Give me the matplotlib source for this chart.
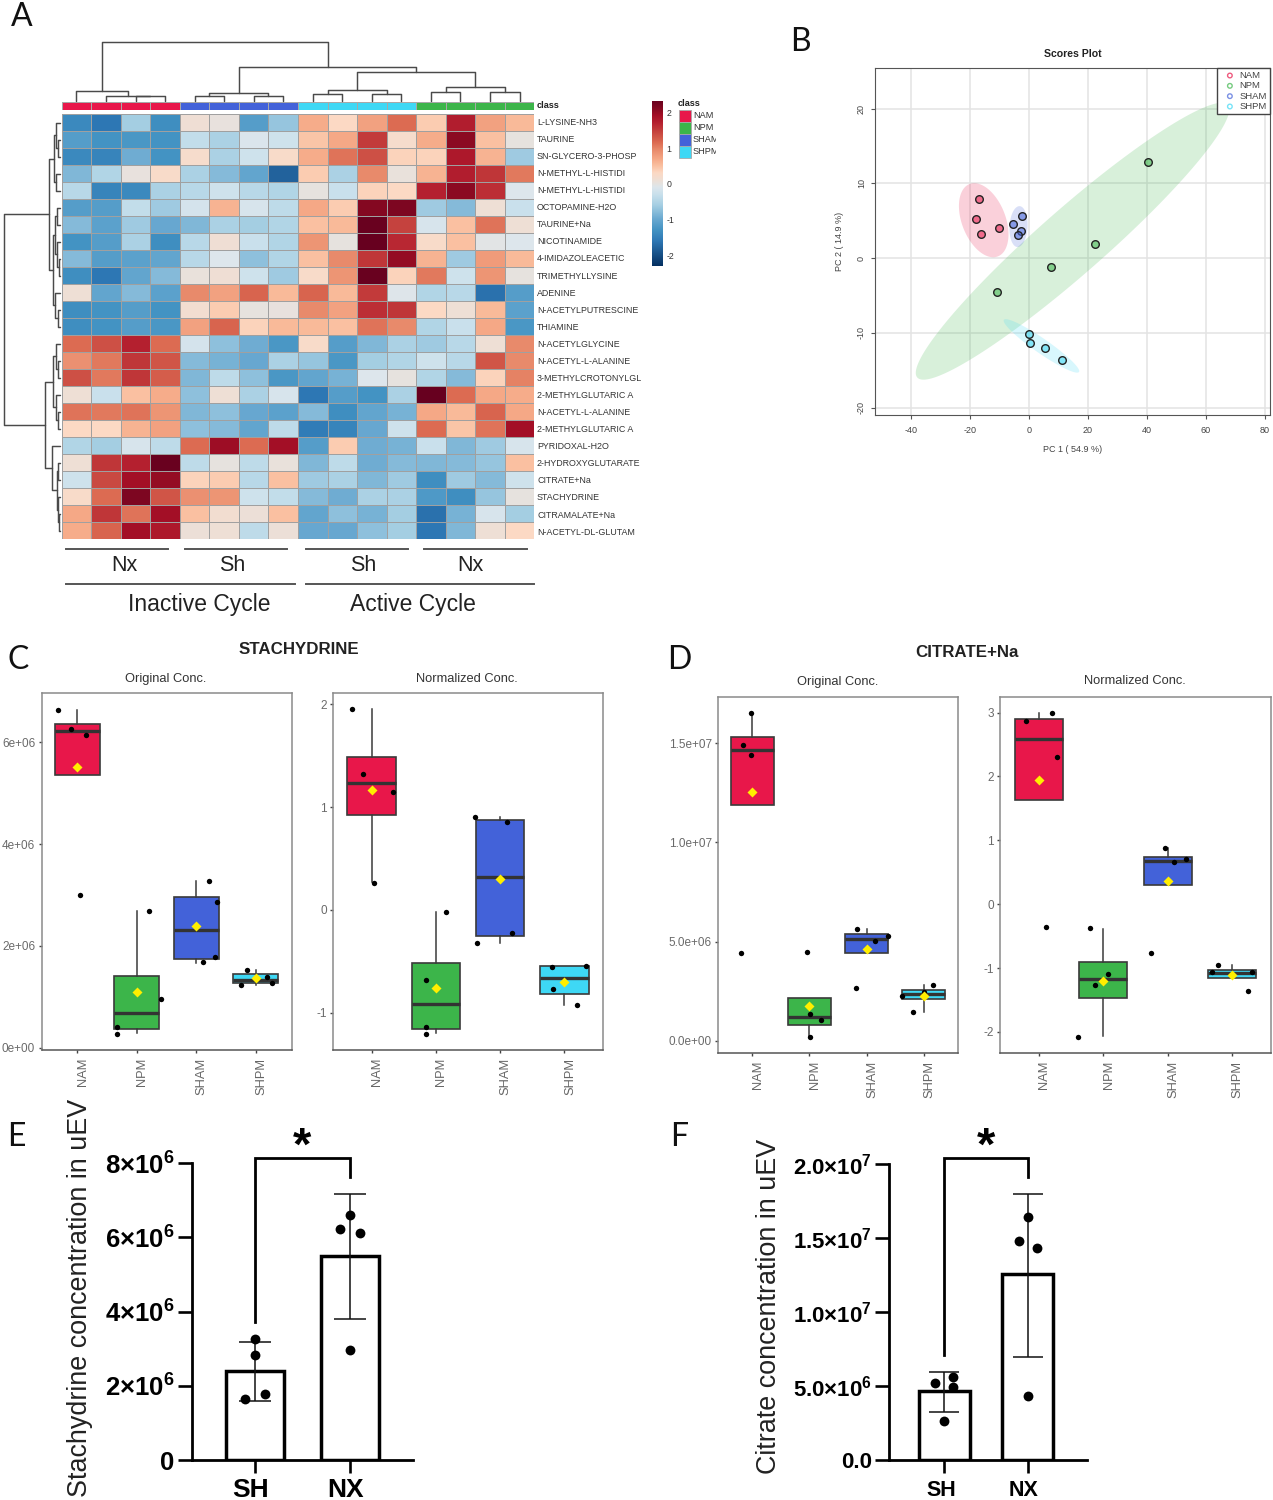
import matplotlib
matplotlib.use("Agg")
import matplotlib.pyplot as plt
import numpy as np
from matplotlib.colors import LinearSegmentedColormap, ListedColormap
from matplotlib.transforms import ScaledTranslation

plt.rcParams["font.family"] = "Liberation Sans"
plt.rcParams["mathtext.fontset"] = "custom"
plt.rcParams["mathtext.bf"] = "Liberation Sans:bold"
plt.rcParams["mathtext.rm"] = "Liberation Sans:bold"
plt.rcParams["axes.unicode_minus"] = False

W, H = 1273, 1500
LETTER_FONT = "Lato"

groups = ["NAM", "NPM", "SHAM", "SHPM"]
group_colors = ["#e8174a", "#3cb54a", "#4362d9", "#3ed8f5"]

# heatmap, columns ordered NAM x4, SHAM x4, SHPM x4, NPM x4
metabolites = [
    "L-LYSINE-NH3", "TAURINE", "SN-GLYCERO-3-PHOSP", "N-METHYL-L-HISTIDI", "N-METHYL-L-HISTIDI",
    "OCTOPAMINE-H2O", "TAURINE+Na", "NICOTINAMIDE", "4-IMIDAZOLEACETIC", "TRIMETHYLLYSINE",
    "ADENINE", "N-ACETYLPUTRESCINE", "THIAMINE", "N-ACETYLGLYCINE", "N-ACETYL-L-ALANINE",
    "3-METHYLCROTONYLGL", "2-METHYLGLUTARIC A", "N-ACETYL-L-ALANINE", "2-METHYLGLUTARIC A",
    "PYRIDOXAL-H2O", "2-HYDROXYGLUTARATE", "CITRATE+Na", "STACHYDRINE", "CITRAMALATE+Na",
    "N-ACETYL-DL-GLUTAM",
]
heat_values = np.array([
    [-1.4, -1.6, -0.6, -1.35, 0.12, 0.02, -1.15, -0.7, 0.65, 0.3, 0.75, 1.15, 0.4, 1.75, 0.75, 0.55],
    [-1.15, -1.3, -1.25, -1.3, -0.35, -0.55, -0.12, -0.25, 0.45, 0.7, 1.5, 0.2, 0.65, 2.05, 0.5, 0.0],
    [-1.4, -1.45, -0.95, -1.3, 0.2, -0.55, -0.25, 0.25, 0.65, 1.1, 1.35, 0.35, 0.35, 1.8, 0.6, -0.65],
    [-0.85, -0.5, 0.02, 0.25, -0.55, -0.8, -1.05, -1.8, 0.4, -0.55, 0.95, 0.05, 0.6, 1.75, 1.55, 1.05],
    [-0.45, -1.45, -1.4, -0.55, -0.45, -0.25, -0.45, -0.5, 0.0, -0.3, 0.35, 0.3, 1.7, 2.05, 1.6, -0.1],
    [-1.15, -1.15, -0.35, -0.65, -0.2, 0.6, -0.15, -0.4, 0.7, 0.4, 2.1, 2.15, -0.65, -0.8, 0.1, -0.3],
    [-0.8, -1.1, -0.65, -1.0, -0.85, -0.55, -0.6, -0.5, 0.5, 0.55, 2.3, 1.45, -0.15, 0.5, 1.1, 0.1],
    [-1.3, -1.15, -0.55, -1.35, -0.45, 0.12, -0.3, -0.5, 0.85, 0.0, 2.33, 1.65, 0.25, 0.5, -0.05, -0.1],
    [-0.8, -1.15, -1.1, -1.05, -0.45, -0.1, -0.75, -0.5, 0.5, 0.95, 1.55, 2.0, 0.6, -0.65, 0.8, 0.55],
    [-1.35, -1.6, -1.05, -0.8, 0.05, 0.12, -0.25, -0.65, 0.25, 0.85, 2.3, 0.35, 1.05, -0.25, 0.85, 0.0],
    [0.1, -1.05, -0.8, -1.1, 0.95, 0.75, 1.2, 0.55, 1.2, 0.55, 1.5, -0.08, -0.5, -0.45, -1.65, -1.15],
    [-1.35, -1.3, -1.15, -1.3, 0.15, 0.4, 0.0, 0.03, 0.95, 0.75, 1.6, 1.55, 0.3, 0.1, 0.55, -1.1],
    [-1.35, -1.3, -1.15, -1.25, 0.75, 1.2, 0.35, 0.55, 0.55, 0.5, 1.1, 0.95, -0.5, -0.3, 0.7, -1.25],
    [1.15, 1.35, 1.7, 1.15, -0.2, -0.75, -0.95, -1.25, 0.25, -1.15, -0.85, -0.55, -0.65, -0.45, 0.1, 0.95],
    [0.9, 1.05, 1.55, 1.3, -0.8, -0.9, -1.0, -0.55, -0.7, -1.25, -0.6, -0.5, -0.25, -0.45, 1.3, 0.95],
    [1.35, 1.05, 1.55, 1.25, -0.85, -0.4, -0.75, -1.25, -1.05, -0.9, -0.1, 0.0, -0.5, -0.8, 0.35, 1.0],
    [0.1, -0.3, 0.5, 0.65, -0.75, 0.1, -0.55, -0.15, -1.6, -1.15, -1.3, -0.55, 2.33, 1.15, 0.7, 0.65],
    [1.1, 1.05, 1.1, 0.85, -0.85, -0.75, -1.0, -1.1, -0.8, -1.35, -1.05, -0.9, 0.7, 0.55, 1.2, 0.7],
    [0.3, 0.3, 0.6, 0.75, -0.75, -0.8, -1.05, -0.4, -1.55, -1.45, -1.0, -0.25, 1.15, 0.45, 1.1, 1.9],
    [-0.5, -0.6, -0.15, -0.4, 1.15, 1.95, 1.15, 1.9, -1.15, 0.4, -0.95, -0.9, -0.3, -0.85, -0.65, -0.15],
    [0.1, 1.55, 1.7, 2.3, -0.4, 0.0, -0.4, 0.05, -0.85, -0.4, -0.95, -0.8, -0.85, -0.8, -0.7, 0.5],
    [-0.25, 1.4, 1.9, 2.0, 0.35, 0.4, -0.45, 0.5, -0.65, -0.55, -0.85, -0.65, -1.35, -0.65, -0.8, -0.25],
    [0.25, 1.15, 2.15, 1.3, 0.9, 0.85, -0.25, -0.35, -0.8, -0.95, -0.55, -0.55, -1.2, -1.35, -0.7, 0.0],
    [0.7, 1.55, 1.1, 1.9, 0.5, 0.15, 0.07, 0.5, -1.05, -0.75, -0.9, -0.6, -1.65, -0.9, -0.15, -0.6],
    [0.65, 1.2, 1.9, 1.8, 0.08, 0.1, -0.4, 0.07, -1.0, -1.0, -0.75, -0.6, -1.6, -0.85, 0.1, 0.3],
])
column_class = [0, 0, 0, 0, 2, 2, 2, 2, 3, 3, 3, 3, 1, 1, 1, 1]

# colour scale as it looks in the reference, grey in the middle
heat_min, heat_max = -2.3, 2.33
heat_stops = [-2.3, -1.6, -1.3, -1.0, -0.6, -0.3, -0.1, 0.0, 0.15, 0.3, 0.5, 0.7, 0.95, 1.15, 1.45, 1.7, 1.9, 2.05, 2.33]
heat_colors = ["#053061", "#2e78b5", "#4393c3", "#68a8d0", "#a6cfe3", "#c9e0ec", "#dde6ec", "#e6e2df", "#f2ddd0",
               "#fcd9c4", "#fac0a0", "#f5a785", "#e88a6b", "#dc6b52", "#c6433e", "#b52130", "#a50f26", "#8c0a22", "#67001f"]
heat_cmap = LinearSegmentedColormap.from_list(
    "heat", [((s - heat_min) / (heat_max - heat_min), c) for s, c in zip(heat_stops, heat_colors)])

# dendrograms: (merge height, left, right), ints are leaves
column_tree = (59,
    (10.3, 0, (5.3, 1, (5, 2, 3))),
    (34.3,
        (7.7, (5, 4, 5), (5, 6, 7)),
        (28.7,
            (11, (6.7, 8, 9), (6.7, 10, 11)),
            (13.7, (8.7, 12, 13), (8.7, 14, 15)))))
row_tree = (56.3,
    (10.7,
        (6, (4, 0, (2, 1, 2)), (4, 3, 4)),
        (7, (5, (3, 5, 6), (3, 7, (1.5, 8, 9))), (5, 10, (2, 11, 12)))),
    (15,
        (6.7, (4, 13, (2, 14, 15)), (4, 16, (2, 17, 18))),
        (8.3, 19, (3, (2, 20, 21), (2, 22, (1.5, 23, 24))))))

# scores plot
pc1_nam = [-16.9, -17.9, -16.3, -10.3]
pc2_nam = [7.86, 5.2, 3.2, 4.06]
pc1_npm = [40.2, 22.3, 7.3, -10.8]
pc2_npm = [12.9, 1.96, -1.25, -4.55]
pc1_sham = [-2.5, -5.3, -2.8, -3.6]
pc2_sham = [5.6, 4.6, 3.66, 3.04]
pc1_shpm = [0.1, 0.2, 5.5, 11.1]
pc2_shpm = [-10.1, -11.3, -12.0, -13.6]

# box panels: q1, median, q3, whisker low, whisker high per group
c1_box = [[5.36, 6.22, 6.36, 5.36, 6.64], [0.36, 0.69, 1.41, 0.28, 2.69],
          [1.75, 2.32, 2.97, 1.67, 3.28], [1.27, 1.33, 1.44, 1.23, 1.53]]
c1_mean = [5.51, 1.09, 2.39, 1.36]
c1_points = [[6.63, 6.26, 6.15, 3.0], [2.69, 0.96, 0.40, 0.27], [3.28, 2.87, 1.79, 1.68], [1.53, 1.39, 1.23, 1.28]]
c1_jitter = [[-0.32, -0.1, 0.147, 0.04], [0.21, 0.4, -0.34, -0.34], [0.21, 0.34, 0.32, 0.11], [-0.14, 0.19, -0.24, 0.27]]

c2_box = [[0.92, 1.235, 1.485, 0.275, 1.95], [-1.16, -0.913, -0.515, -1.2, -0.026],
          [-0.253, 0.318, 0.877, -0.325, 0.9], [-0.816, -0.666, -0.552, -0.923, -0.546]]
c2_mean = [1.165, -0.764, 0.302, -0.702]
c2_points = [[1.95, 1.326, 1.144, 0.26], [-0.026, -0.68, -1.14, -1.21], [0.907, 0.855, -0.227, -0.328], [-0.56, -0.546, -0.773, -0.926]]
c2_jitter = [[-0.31, -0.135, 0.33, 0.037], [0.165, -0.155, -0.155, -0.147], [-0.385, 0.104, 0.177, -0.367], [-0.2, 0.33, -0.177, 0.2]]

d1_box = [[11.91, 14.66, 15.32, 11.91, 16.54], [0.79, 1.21, 2.17, 0.185, 2.17],
          [4.42, 5.14, 5.39, 4.42, 5.63], [2.08, 2.35, 2.55, 1.46, 2.79]]
d1_mean = [12.56, 1.76, 4.64, 2.25]
d1_points = [[16.54, 14.91, 14.43, 4.4], [4.47, 1.36, 1.02, 0.17], [5.64, 5.29, 5.02, 2.65], [2.79, 2.45, 2.28, 1.46]]
d1_jitter = [[-0.014, -0.16, -0.014, -0.19], [-0.05, 0.007, 0.21, 0.014], [-0.16, 0.38, 0.15, -0.18], [0.17, 0.0, -0.38, -0.19]]

d2_box = [[1.627, 2.586, 2.904, 1.627, 3.0], [-1.47, -1.173, -0.912, -2.07, -0.386],
          [0.297, 0.683, 0.746, 0.297, 0.876], [-1.152, -1.074, -1.027, -1.152, -0.954]]
d2_mean = [1.945, -1.204, 0.365, -1.11]
d2_points = [[2.99, 2.87, 2.3, -0.365], [-0.38, -1.09, -1.267, -2.08], [0.88, 0.7, 0.657, -0.77], [-0.954, -1.058, -1.069, -1.356]]
d2_jitter = [[0.21, -0.195, 0.28, 0.12], [-0.21, 0.08, -0.135, -0.39], [-0.036, 0.287, 0.1, -0.26], [-0.22, -0.31, 0.31, 0.238]]

# bar panels
bar_labels = ["SH", "NX"]
e_mean = [2.39e6, 5.51e6]
e_err_low = [1.59e6, 3.8e6]
e_err_high = [3.18e6, 7.17e6]
e_points = [[3.27e6, 2.83e6, 1.65e6, 1.77e6], [6.6e6, 6.23e6, 6.11e6, 2.97e6]]
e_jitter = [[0, 0, -0.105, 0.105], [0, -0.105, 0.105, 0]]
e_ticks = [0, 2e6, 4e6, 6e6, 8e6]
e_tick_labels = ["0", r"$\mathbf{2{\times}10^{6}}$", r"$\mathbf{4{\times}10^{6}}$", r"$\mathbf{6{\times}10^{6}}$", r"$\mathbf{8{\times}10^{6}}$"]
f_mean = [4.64e6, 12.56e6]
f_err_low = [3.27e6, 6.98e6]
f_err_high = [5.92e6, 17.97e6]
f_points = [[5.59e6, 4.95e6, 5.23e6, 2.61e6], [16.4e6, 14.8e6, 14.3e6, 4.35e6]]
f_jitter = [[0.108, 0.108, -0.108, 0], [0, -0.108, 0.108, 0]]
f_ticks = [0, 5e6, 10e6, 15e6, 20e6]
f_tick_labels = ["0.0", r"$\mathbf{5.0{\times}10^{6}}$", r"$\mathbf{1.0{\times}10^{7}}$", r"$\mathbf{1.5{\times}10^{7}}$", r"$\mathbf{2.0{\times}10^{7}}$"]


fig = plt.figure(figsize=(W / 100, H / 100), dpi=100, facecolor="white")


def px_axes(left, top, right, bottom, **kwargs):
    return fig.add_axes([left / W, 1 - bottom / H, (right - left) / W, (bottom - top) / H], **kwargs)


page = px_axes(0, 0, W, H, zorder=10)
page.set_xlim(0, W)
page.set_ylim(H, 0)
page.axis("off")
page.patch.set_alpha(0)


def draw_tree(node, center_of, to_xy):
    """Draw a nested merge tree on the page, return position of the node and its height."""
    if isinstance(node, int):
        return center_of(node), 0
    height, left, right = node
    pos_a, h_a = draw_tree(left, center_of, to_xy)
    pos_b, h_b = draw_tree(right, center_of, to_xy)
    xs, ys = to_xy([pos_a, pos_a, pos_b, pos_b], [h_a, height, height, h_b])
    page.plot(xs, ys, color="#4a4a4a", lw=1.05, solid_capstyle="round")
    return (pos_a + pos_b) / 2, height


# ---- panel A
heat_left, heat_right, heat_top, heat_bottom = 61.7, 534.3, 114, 539.3
ax = px_axes(heat_left, heat_top, heat_right, heat_bottom)
ax.pcolormesh(heat_values, cmap=heat_cmap, vmin=heat_min, vmax=heat_max, edgecolors="#a0a0a0", linewidth=0.55)
ax.set_ylim(len(metabolites), 0)
ax.axis("off")

ax = px_axes(heat_left, 101.7, heat_right, 110)
ax.pcolormesh([column_class], cmap=ListedColormap(group_colors), vmin=0, vmax=3, edgecolors="#a8a8a8", linewidth=0.4)
ax.axis("off")

cell_w = (heat_right - heat_left) / heat_values.shape[1]
cell_h = (heat_bottom - heat_top) / heat_values.shape[0]
draw_tree(column_tree, lambda i: heat_left + (i + 0.5) * cell_w,
          lambda p, h: (p, [101 - v for v in h]))
draw_tree(row_tree, lambda i: heat_top + (i + 0.5) * cell_h,
          lambda p, h: ([60 - v for v in h], p))

page.text(537, 105.8, "class", fontsize=6.6, fontweight="bold", va="center", color="#222222")
for i, name in enumerate(metabolites):
    page.text(537, 122.4 + i * 17.07, name, fontsize=6.4, va="center", color="#333333")

# colour scale beside the heatmap
ax = px_axes(652.3, 100.7, 663.3, 266)
scale = np.linspace(heat_max, heat_min, 256)[:, None]
ax.imshow(scale, cmap=heat_cmap, vmin=heat_min, vmax=heat_max, aspect="auto", extent=[0, 1, heat_min, heat_max])
ax.set_xticks([])
ax.yaxis.tick_right()
ax.set_yticks([-2, -1, 0, 1, 2], ["-2", "-1", "0", "1", "2"], fontsize=6.3, color="#333333")
ax.tick_params(axis="y", length=0, pad=2.5)
for s in ax.spines.values():
    s.set_visible(False)

ax = px_axes(677, 97, 716, 162)
ax.set_xlim(677, 716)
ax.set_ylim(162, 97)
ax.axis("off")
ax.text(678, 103, "class", fontsize=6.6, fontweight="bold", va="center", color="#222222")
for i, (name, color) in enumerate(zip(groups, group_colors)):
    ax.bar(685, 12, width=12, bottom=110 + 12 * i, color=color, edgecolor="#a8a8a8", linewidth=0.6)
    ax.text(693, 116 + 12 * i, name, fontsize=6.6, va="center", color="#333333", clip_on=True)

for x0, x1, label, xc in [(66, 168, "Nx", 124), (184.7, 287, "Sh", 232), (305.7, 407.7, "Sh", 363), (424, 526.7, "Nx", 470)]:
    page.plot([x0, x1], [549, 549], color="#555555", lw=1.4)
    page.text(xc, 565.5, label, fontsize=15.5, ha="center", va="center", color="#222222")
for x0, x1, label, xc in [(66, 295, "Inactive Cycle", 199), (305.7, 534, "Active Cycle", 413)]:
    page.plot([x0, x1], [584, 584], color="#555555", lw=1.4)
    page.text(xc, 604.5, label, fontsize=16.5, ha="center", va="center", color="#222222")

# ---- panel B
ax = px_axes(875, 67.7, 1270, 415)
ax.set_xlim(-52.2, 81.7)
ax.set_ylim(-21.0, 25.5)
ax.grid(True, color="#e3e3e3", lw=1.1)
ax.set_axisbelow(True)
for name, color, pcx, pcy in zip(groups, group_colors, [pc1_nam, pc1_npm, pc1_sham, pc1_shpm],
                                 [pc2_nam, pc2_npm, pc2_sham, pc2_shpm]):
    # 95 % ellipse of the group scores
    centre = np.array([np.mean(pcx), np.mean(pcy)])
    chol = np.linalg.cholesky(np.cov(pcx, pcy))
    t = np.linspace(0, 2 * np.pi, 200)
    outline = centre[:, None] + 2.448 * chol @ np.vstack([np.cos(t), np.sin(t)])
    ax.fill(outline[0], outline[1], color=color, alpha=0.2, lw=0)
    ax.scatter(pcx, pcy, s=30, facecolor=matplotlib.colors.to_rgba(color, 0.55), edgecolor="#222222", linewidth=1.0, zorder=3)
    ax.scatter([], [], s=11, facecolor="none", edgecolor=color, alpha=0.7, linewidth=1.0, label=name)
leg = ax.legend(loc="upper right", fontsize=6.8, frameon=True, fancybox=False, edgecolor="#444444", framealpha=1,
                borderaxespad=0, labelspacing=0.14, handletextpad=0.0, borderpad=0.35, labelcolor="#444444")
ax.set_xticks([-40, -20, 0, 20, 40, 60, 80])
ax.set_yticks([-20, -10, 0, 10, 20])
ax.tick_params(axis="x", labelsize=6.5, labelcolor="#444444", length=3, color="#555555", pad=5)
ax.tick_params(axis="y", labelsize=6.5, labelcolor="#444444", length=3, color="#555555", pad=3.5, labelrotation=90)
for lab in ax.get_yticklabels():
    lab.set_va("center")
for s in ax.spines.values():
    s.set_color("#555555")
page.text(1073, 54, "Scores Plot", fontsize=7.6, fontweight="bold", ha="center", va="center", color="#222222")
page.text(1073, 449.5, "PC 1 ( 54.9 %)", fontsize=6.5, ha="center", va="center", color="#444444")
page.text(840, 241, "PC 2 ( 14.9 %)", fontsize=6.5, rotation=90, ha="center", va="center", color="#444444")


# ---- panels C and D
def box_panel(box, left, top, right, bottom, ylim, ticks, tick_labels, means, points, jitter):
    ax = px_axes(left, top, right, bottom)
    stats = [dict(q1=b[0], med=b[1], q3=b[2], whislo=b[3], whishi=b[4], fliers=[]) for b in box]
    art = ax.bxp(stats, positions=range(4), widths=0.75, patch_artist=True, showcaps=False, showfliers=False,
                 medianprops=dict(color="#333333", lw=2.4, solid_capstyle="butt"),
                 boxprops=dict(edgecolor="#3a3a3a", lw=1.2),
                 whiskerprops=dict(color="#3a3a3a", lw=1.1))
    for patch, color in zip(art["boxes"], group_colors):
        patch.set_facecolor(color)
    for i in range(4):
        ax.scatter(np.array(jitter[i]) + i, points[i], s=15, color="black", zorder=4, linewidth=0)
    ax.scatter(range(4), means, marker="D", s=26, color="#ffee00", zorder=5, linewidth=0)
    ax.set_xlim(-0.6, 3.6)
    ax.set_ylim(*ylim)
    ax.set_yticks(ticks, tick_labels, fontsize=8.5, color="#6a6a6a")
    ax.set_xticks(range(4), groups, rotation=90, fontsize=9.3, color="#666666")
    ax.tick_params(axis="both", length=2.5, width=1, color="#444444", pad=2)
    ax.tick_params(axis="x", pad=3)
    shift = ScaledTranslation(4 / 72, 0, fig.dpi_scale_trans)
    for lab in ax.get_xticklabels():
        lab.set_transform(lab.get_transform() + shift)
    for s in ax.spines.values():
        s.set_color("#8a8a8a")
        s.set_linewidth(1.1)
    ax.spines["bottom"].set_color("#555555")
    return ax


box_panel(c1_box, 41.5, 693, 291.5, 1050, (-0.046, 6.97), [0, 2, 4, 6],
          ["0e+00", "2e+06", "4e+06", "6e+06"], c1_mean, c1_points, c1_jitter)
box_panel(c2_box, 333, 693, 603, 1050, (-1.365, 2.11), [-1, 0, 1, 2], ["-1", "0", "1", "2"], c2_mean, c2_points, c2_jitter)
box_panel(d1_box, 718, 696.7, 958, 1053, (-0.62, 17.35), [0, 5, 10, 15],
          ["0.0e+00", "5.0e+06", "1.0e+07", "1.5e+07"], d1_mean, d1_points, d1_jitter)
box_panel(d2_box, 1000, 696.7, 1271, 1053, (-2.33, 3.248), [-2, -1, 0, 1, 2, 3], ["-2", "-1", "0", "1", "2", "3"],
          d2_mean, d2_points, d2_jitter)

page.text(298.5, 650, "STACHYDRINE", fontsize=12.2, fontweight="bold", ha="center", va="center", color="#222222")
page.text(967, 652.5, "CITRATE+Na", fontsize=12.2, fontweight="bold", ha="center", va="center", color="#222222")
for xc, yc, label in [(166, 679, "Original Conc."), (467, 679, "Normalized Conc."), (838, 681.5, "Original Conc."), (1135, 681.5, "Normalized Conc.")]:
    page.text(xc, yc, label, fontsize=9.3, ha="center", va="center", color="#333333")


# ---- panels E and F
def bar_panel(left, right, top, bottom, ymax, xlim, means, low, high, points, jitter, ticks, labels, cap, bracket, tick_size):
    ax = px_axes(left, top, right, bottom)
    ax.bar([0, 1], means, width=0.61, facecolor="white", edgecolor="black", linewidth=2.5, zorder=2)
    for i in range(2):
        ax.errorbar(i, means[i], yerr=[[means[i] - low[i]], [high[i] - means[i]]], color="#111111", elinewidth=1.1,
                    capsize=cap, capthick=1.1, zorder=3)
        ax.scatter(np.array(jitter[i]) + i, points[i], s=50, color="black", zorder=4, linewidth=0, clip_on=False)
    ax.plot([0, 0, 1, 1], bracket, color="black", lw=2.0, clip_on=False, solid_joinstyle="miter")
    ax.set_xlim(*xlim)
    ax.set_ylim(0, ymax)
    ax.set_xticks([0, 1], ["", ""])
    ax.set_yticks(ticks, labels, fontsize=tick_size, fontweight="bold")
    ax.tick_params(axis="y", length=10, width=1.9, pad=2.5)
    ax.tick_params(axis="x", length=9, width=1.9)
    ax.spines["top"].set_visible(False)
    ax.spines["right"].set_visible(False)
    ax.spines["left"].set_linewidth(2.0)
    ax.spines["bottom"].set_linewidth(2.0)
    return ax


bar_panel(191.7, 413, 1163.3, 1460, 8e6, (-0.666, 1.663), e_mean, e_err_low, e_err_high, e_points, e_jitter,
          e_ticks, e_tick_labels, 11.5, [3.73e6, 8.13e6, 8.13e6, 7.64e6], 18.5)
bar_panel(889.3, 1087, 1164, 1460, 20e6, (-0.66, 1.713), f_mean, f_err_low, f_err_high, f_points, f_jitter,
          f_ticks, f_tick_labels, 10.5, [7.09e6, 20.4e6, 20.4e6, 19.14e6], 16)

for xc, label, size in [(250.5, bar_labels[0], 19), (346, bar_labels[1], 19), (941, bar_labels[0], 15.5), (1024, bar_labels[1], 15.5)]:
    page.text(xc, 1490, label, fontsize=size, fontweight="bold", ha="center", va="center")

page.text(302, 1148, "*", fontsize=34, fontweight="bold", ha="center", va="center")
page.text(986, 1148, "*", fontsize=34, fontweight="bold", ha="center", va="center")
page.text(80, 1298, "Stachydrine concentration in uEV", fontsize=19.4, rotation=90, ha="center", va="center", color="#222222")
page.text(768.5, 1306, "Citrate concentration in uEV", fontsize=19.4, rotation=90, ha="center", va="center", color="#222222")

# panel letters
for x, y, letter in [(22, 17, "A"), (800, 42, "B"), (18, 660, "C"), (679, 660, "D"), (16.5, 1137, "E"), (679, 1137, "F")]:
    page.text(x, y, letter, fontsize=23, ha="center", va="center", family=LETTER_FONT, color="#111111")

fig.savefig("out.png", dpi=100)
